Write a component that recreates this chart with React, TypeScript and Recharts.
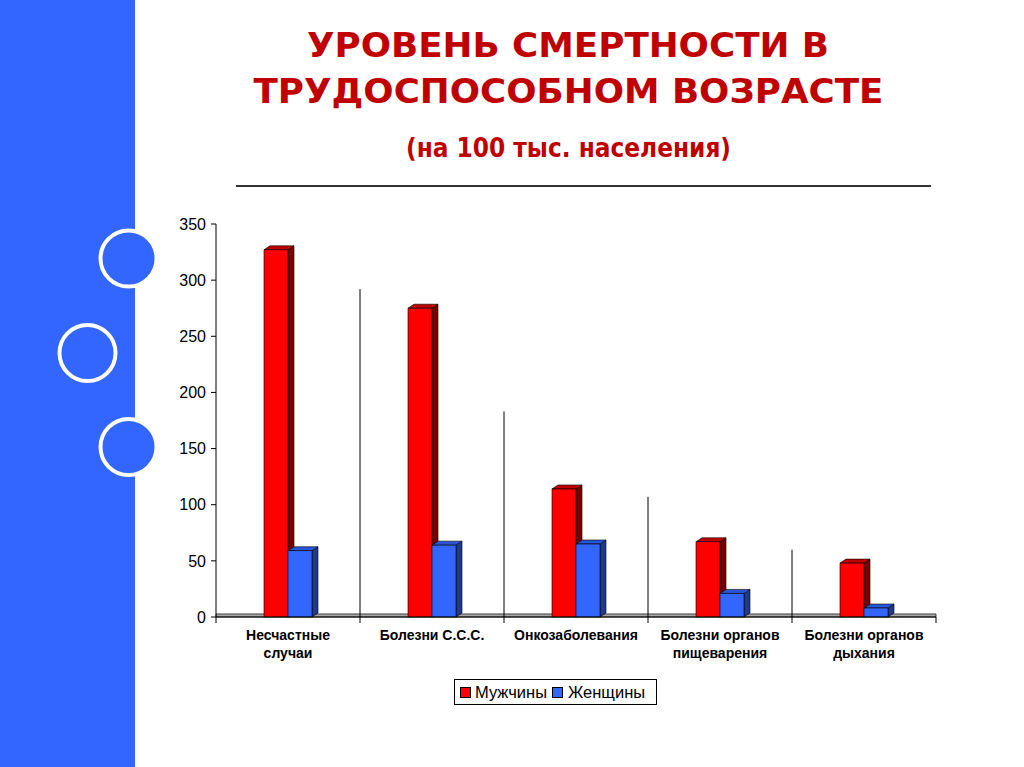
import React from 'react';
import { BarChart, Bar, XAxis, YAxis, ReferenceLine, ReferenceArea } from 'recharts';

const categories = [
  'Несчастные\nслучаи',
  'Болезни С.С.С.',
  'Онкозаболевания',
  'Болезни органов\nпищеварения',
  'Болезни органов\nдыхания',
];
const men = [327, 275, 114, 67, 48];
const women = [59, 64, 65, 21, 8];
const yTicks = [0, 50, 100, 150, 200, 250, 300, 350];
const dividerTops = [292, 183, 107, 60];
const seriesNames = ['Мужчины', 'Женщины'];

const data = categories.map((c, i) => ({ cat: c, men: men[i], women: women[i] }));

const W = 1024;
const H = 767;
const M = { top: 224, left: 156, right: 88, bottom: 110 };
const Y_AXIS_W = 60;
const X_AXIS_H = 40;
const PLOT_W = W - M.left - Y_AXIS_W - M.right;
const BAND = PLOT_W / categories.length;

const FONT = '"Liberation Sans", Arial, sans-serif';
const TITLE_FONT = '"DejaVu Sans", Verdana, sans-serif';

const make3D = (front: string, side: string, top: string) => (props: any) => {
  const { x, y, width, height } = props;
  if (width == null || height == null || isNaN(x) || isNaN(y)) return null;
  const dx = 6;
  const dy = 4;
  return (
    <g>
      <polygon
        points={`${x + width},${y} ${x + width + dx},${y - dy} ${x + width + dx},${y + height - dy} ${x + width},${y + height}`}
        fill={side}
        stroke="#000"
        strokeWidth={0.6}
      />
      <polygon
        points={`${x},${y} ${x + dx},${y - dy} ${x + width + dx},${y - dy} ${x + width},${y}`}
        fill={top}
        stroke="#000"
        strokeWidth={0.6}
      />
      <rect x={x} y={y} width={width} height={height} fill={front} stroke="#000" strokeWidth={0.6} />
    </g>
  );
};

const RedBar = make3D('#FF0000', '#7A0000', '#C00000');
const BlueBar = make3D('#3366FF', '#1F3A8A', '#2A55D6');

const CatTick = (props: any) => {
  const { x, y, payload, index } = props;
  const lines = String(payload.value).split('\n');
  const left = x - BAND / 2;
  const right = x + BAND / 2;
  return (
    <g>
      <line x1={left} y1={y} x2={left} y2={y + 6} stroke="#000" strokeWidth={1} />
      {index === categories.length - 1 && (
        <line x1={right} y1={y} x2={right} y2={y + 6} stroke="#000" strokeWidth={1} />
      )}
      <text
        x={x}
        y={y + 23}
        textAnchor="middle"
        fontFamily={FONT}
        fontWeight="bold"
        fontSize={14}
        fill="#000"
      >
        {lines.map((l, i) => (
          <tspan key={i} x={x} dy={i === 0 ? 0 : 18}>
            {l}
          </tspan>
        ))}
      </text>
    </g>
  );
};

export default function App() {
  return (
    <div style={{ position: 'absolute', left: 0, top: 0, width: W, height: H, background: '#fff', overflow: 'hidden' }}>
      <div style={{ position: 'absolute', left: 0, top: 0, width: 135, height: H, background: '#3366FF' }} />
      <svg width={W} height={H} style={{ position: 'absolute', left: 0, top: 0 }}>
        <circle cx={128.5} cy={258.5} r={28} fill="#3366FF" stroke="#fff" strokeWidth={4} />
        <circle cx={87.5} cy={353} r={28} fill="#3366FF" stroke="#fff" strokeWidth={4} />
        <circle cx={128.5} cy={447} r={28} fill="#3366FF" stroke="#fff" strokeWidth={4} />
        <text x={568} y={57} textAnchor="middle" fontFamily={TITLE_FONT} fontWeight="bold" fontSize={33} fill="#C00000" textLength={522} lengthAdjust="spacingAndGlyphs">
          УРОВЕНЬ СМЕРТНОСТИ В
        </text>
        <text x={568.5} y={103} textAnchor="middle" fontFamily={TITLE_FONT} fontWeight="bold" fontSize={33} fill="#C00000" textLength={630} lengthAdjust="spacingAndGlyphs">
          ТРУДОСПОСОБНОМ ВОЗРАСТЕ
        </text>
        <text x={568.5} y={157} textAnchor="middle" fontFamily={TITLE_FONT} fontWeight="bold" fontSize={26} fill="#C00000" textLength={325} lengthAdjust="spacingAndGlyphs">
          (на 100 тыс. населения)
        </text>
        <line x1={236} y1={186} x2={931} y2={186} stroke="#333" strokeWidth={2} />
      </svg>
      <div style={{ position: 'absolute', left: 0, top: 0 }}>
        <BarChart
          width={W}
          height={H}
          data={data}
          margin={M}
          barCategoryGap={48}
          barGap={0}
        >
          <XAxis
            dataKey="cat"
            height={X_AXIS_H}
            tick={<CatTick />}
            tickLine={false}
            tickSize={0}
            tickMargin={0}
            axisLine={{ stroke: '#000', strokeWidth: 1 }}
            interval={0}
          />
          <YAxis
            width={Y_AXIS_W}
            domain={[0, 350]}
            ticks={yTicks}
            interval={0}
            tickSize={5}
            tickMargin={5}
            axisLine={{ stroke: '#000', strokeWidth: 1 }}
            tickLine={{ stroke: '#000', strokeWidth: 1 }}
            tick={{ fontFamily: FONT, fontSize: 16, fill: '#000' }}
          />
          <ReferenceArea y1={0} y2={2.7} fill="#A8A8A8" fillOpacity={1} stroke="#222" strokeWidth={0.8} />
          {dividerTops.map((t, i) => (
            <ReferenceLine
              key={i}
              position="start"
              segment={[
                { x: categories[i + 1], y: 0 },
                { x: categories[i + 1], y: t },
              ]}
              stroke="#000"
              strokeWidth={1}
            />
          ))}
          <Bar dataKey="men" name={seriesNames[0]} shape={RedBar} isAnimationActive={false} />
          <Bar dataKey="women" name={seriesNames[1]} shape={BlueBar} isAnimationActive={false} />
        </BarChart>
      </div>
      <div
        style={{
          position: 'absolute',
          left: 454,
          top: 679,
          width: 201,
          height: 24,
          border: '1px solid #000',
          background: '#fff',
          display: 'flex',
          alignItems: 'center',
          fontFamily: FONT,
          fontSize: 16.5,
          color: '#000',
          boxSizing: 'content-box',
          whiteSpace: 'nowrap',
        }}
      >
        <span style={{ display: 'inline-block', width: 9, height: 9, background: '#FF0000', border: '1px solid #000', marginLeft: 5 }} />
        <span style={{ marginLeft: 4 }}>{seriesNames[0]}</span>
        <span style={{ display: 'inline-block', width: 9, height: 9, background: '#3366FF', border: '1px solid #000', marginLeft: 5 }} />
        <span style={{ marginLeft: 5 }}>{seriesNames[1]}</span>
      </div>
    </div>
  );
}
